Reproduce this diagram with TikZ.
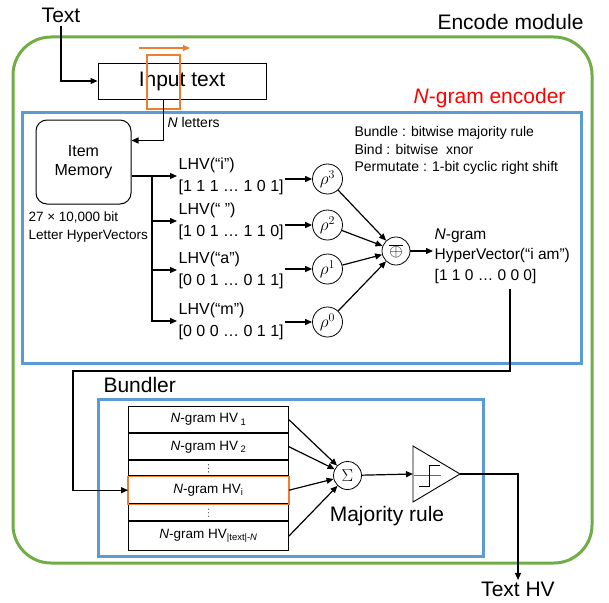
\documentclass[tikz,border=0pt]{standalone}
\usepackage{fontspec}
\setmainfont{Liberation Sans}
\usetikzlibrary{arrows.meta,positioning}
\definecolor{encgreen}{RGB}{112,173,71}
\definecolor{encblue}{RGB}{91,155,213}
\definecolor{winorange}{RGB}{237,125,49}

\begin{document}
\begin{tikzpicture}[x=1pt,y=-1pt,
    arr/.style={-{Triangle[length=7pt,width=6pt]},line width=1.2pt},
    big/.style={font=\fontsize{21}{25}\selectfont},
    mid/.style={font=\fontsize{16}{22}\selectfont},
    small/.style={font=\fontsize{14}{17.5}\selectfont},
    opnode/.style={draw,circle,minimum size=28pt,inner sep=0pt,line width=0.8pt,font=\fontsize{18}{20}\selectfont},
    rot/.style={draw,circle,minimum size=30pt,inner sep=0pt,line width=0.8pt,font=\fontsize{17}{20}\selectfont},
    hvrow/.style={draw,minimum width=160pt,inner sep=0pt,line width=0.9pt,font=\fontsize{13.5}{16}\selectfont}]
\useasboundingbox (0,0) rectangle (609,602);
% frames
\draw[encgreen,line width=3pt,rounded corners=38pt] (13,37) rectangle (592,563);
\draw[encblue,line width=3pt] (22,112) rectangle (581,363);
\draw[encblue,line width=3pt] (98,399) rectangle (483,556);
\node[big,anchor=east] (encode) at (587,22) {Encode module};
\node[big,anchor=east,red] (ngenc) at (569,98) {\textit{N}-gram encoder};
\node[big,anchor=west] (bundler) at (100,385) {Bundler};

% input text
\node[big] (text) at (61,15) {Text};
\node[big,draw,line width=1pt,minimum width=168pt,minimum height=36pt,inner sep=0pt] (input) at (182,81) {Input text};
\node[draw=winorange,line width=1.2pt,minimum width=33pt,minimum height=54pt,inner sep=0pt] (win) at (163.5,82) {};
\coordinate (shl) at (139,48);
\coordinate (shr) at (190,48);
\draw[winorange,arr] (shl) -- (shr);
\draw[arr] (text.south) |- (input.west);

% item memory
\node[draw,rounded corners=11pt,line width=1pt,minimum width=95pt,minimum height=84pt,align=center,font=\fontsize{16}{19}\selectfont] (item) at (83.5,162) {Item\\Memory};
\draw[arr] (win.center |- input.south) |- ([yshift=-21pt]item.north east);
\node[small,anchor=west] (nlet) at (164,122) {\textit{N} letters};
\node[font=\fontsize{13.5}{18}\selectfont,align=left,anchor=north west] (lhvs) at (25,208) {27 × 10,000 bit\\Letter HyperVectors};
\node[small,anchor=north west,align=left] (rules) at (351,123) {Bundle : bitwise majority rule\\Bind : bitwise~ xnor\\Permutate : 1-bit cyclic right shift};

% letter hypervectors and permutations
\node[opnode] (xnor) at (396,251) {$\overline{\oplus}$};
\coordinate (split) at (152,176);
\draw[line width=1.2pt] (item.east |- split) -- (split);
\foreach \i/\y/\c/\v/\p/\ry in {1/176/i/1 1 1 … 1 0 1/3/179,
    2/221/{~}/1 0 1 … 1 1 0/2/225,
    3/270/a/0 0 1 … 0 1 1/1/269,
    4/321/m/0 0 0 … 0 1 1/0/322}{
  \node[mid,anchor=west,align=left,inner sep=1.5pt] (l\i) at (177,\y) {LHV(“\c”)\\{[}\v{]}};
  \node[rot] (r\i) at (327.5,\ry) {$\rho^{\p}$};
  \draw[arr] (split) |- (l\i.west);
  \draw[arr] (l\i.east |- r\i) -- (r\i);
  \draw[arr] (r\i) -- (xnor);
}
\node[anchor=west,align=left,font=\fontsize{15.5}{20.5}\selectfont,inner sep=1.5pt] (nghv) at (433,256) {\textit{N}-gram\\HyperVector(“i am”)\\{[}1 1 0 … 0 0 0{]}};
\draw[arr] (xnor.east) -- (xnor.east -| nghv.west);

% bundler
\node[hvrow,minimum height=26pt] (hv1) at (208.5,419.7) {\textit{N}-gram HV\,\textsubscript{1}};
\node[hvrow,minimum height=26.3pt,below=0pt of hv1] (hv2) {\textit{N}-gram HV\,\textsubscript{2}};
\node[hvrow,minimum height=15pt,below=0pt of hv2] (dots1) {};
\node[hvrow,minimum height=27pt,below=0pt of dots1] (hvi) {\textit{N}-gram HV\textsubscript{i}};
\node[hvrow,minimum height=16.3pt,below=0pt of hvi] (dots2) {};
\node[hvrow,minimum height=28.4pt,below=0pt of dots2] (hvn) {\textit{N}-gram HV\textsubscript{|text|-\textit{N}}};
\draw[winorange,line width=1.2pt] (hvi.north west) rectangle (hvi.south east);
\foreach \d in {dots1,dots2}
  \foreach \s in {-3.5,0,3.5}
    \fill[black!70] ([yshift=\s pt]\d.center) circle (0.7pt);
\coordinate (ngout) at (510,289);
\draw[arr] (ngout) |- (73,371) |- (hvi.west);

\node[opnode] (sum) at (347.5,475.5) {$\Sigma$};
\foreach \r in {hv1,hv2,hvi,hvn}
  \draw[arr] (\r.east) -- (sum);
\node[big] (maj) at (387,516) {Majority rule};

% threshold
\coordinate (thin) at (413,474);
\coordinate (thout) at (460,474);
\draw[line width=0.9pt] ([yshift=28pt]thin) -- (thout) -- ([yshift=-28pt]thin) -- cycle;
\draw[black!60,line width=0.8pt] (414,475) -- (441,475);
\draw[line width=0.8pt] (419,486) -- (429.5,486) -- (429.5,465) -- (440,465);
\draw[arr] (sum) -- (thin);
\node[big,inner sep=1.5pt] (texthv) at (518,589) {Text HV};
\draw[arr] (thout) -| (texthv.north);
\end{tikzpicture}
\end{document}
